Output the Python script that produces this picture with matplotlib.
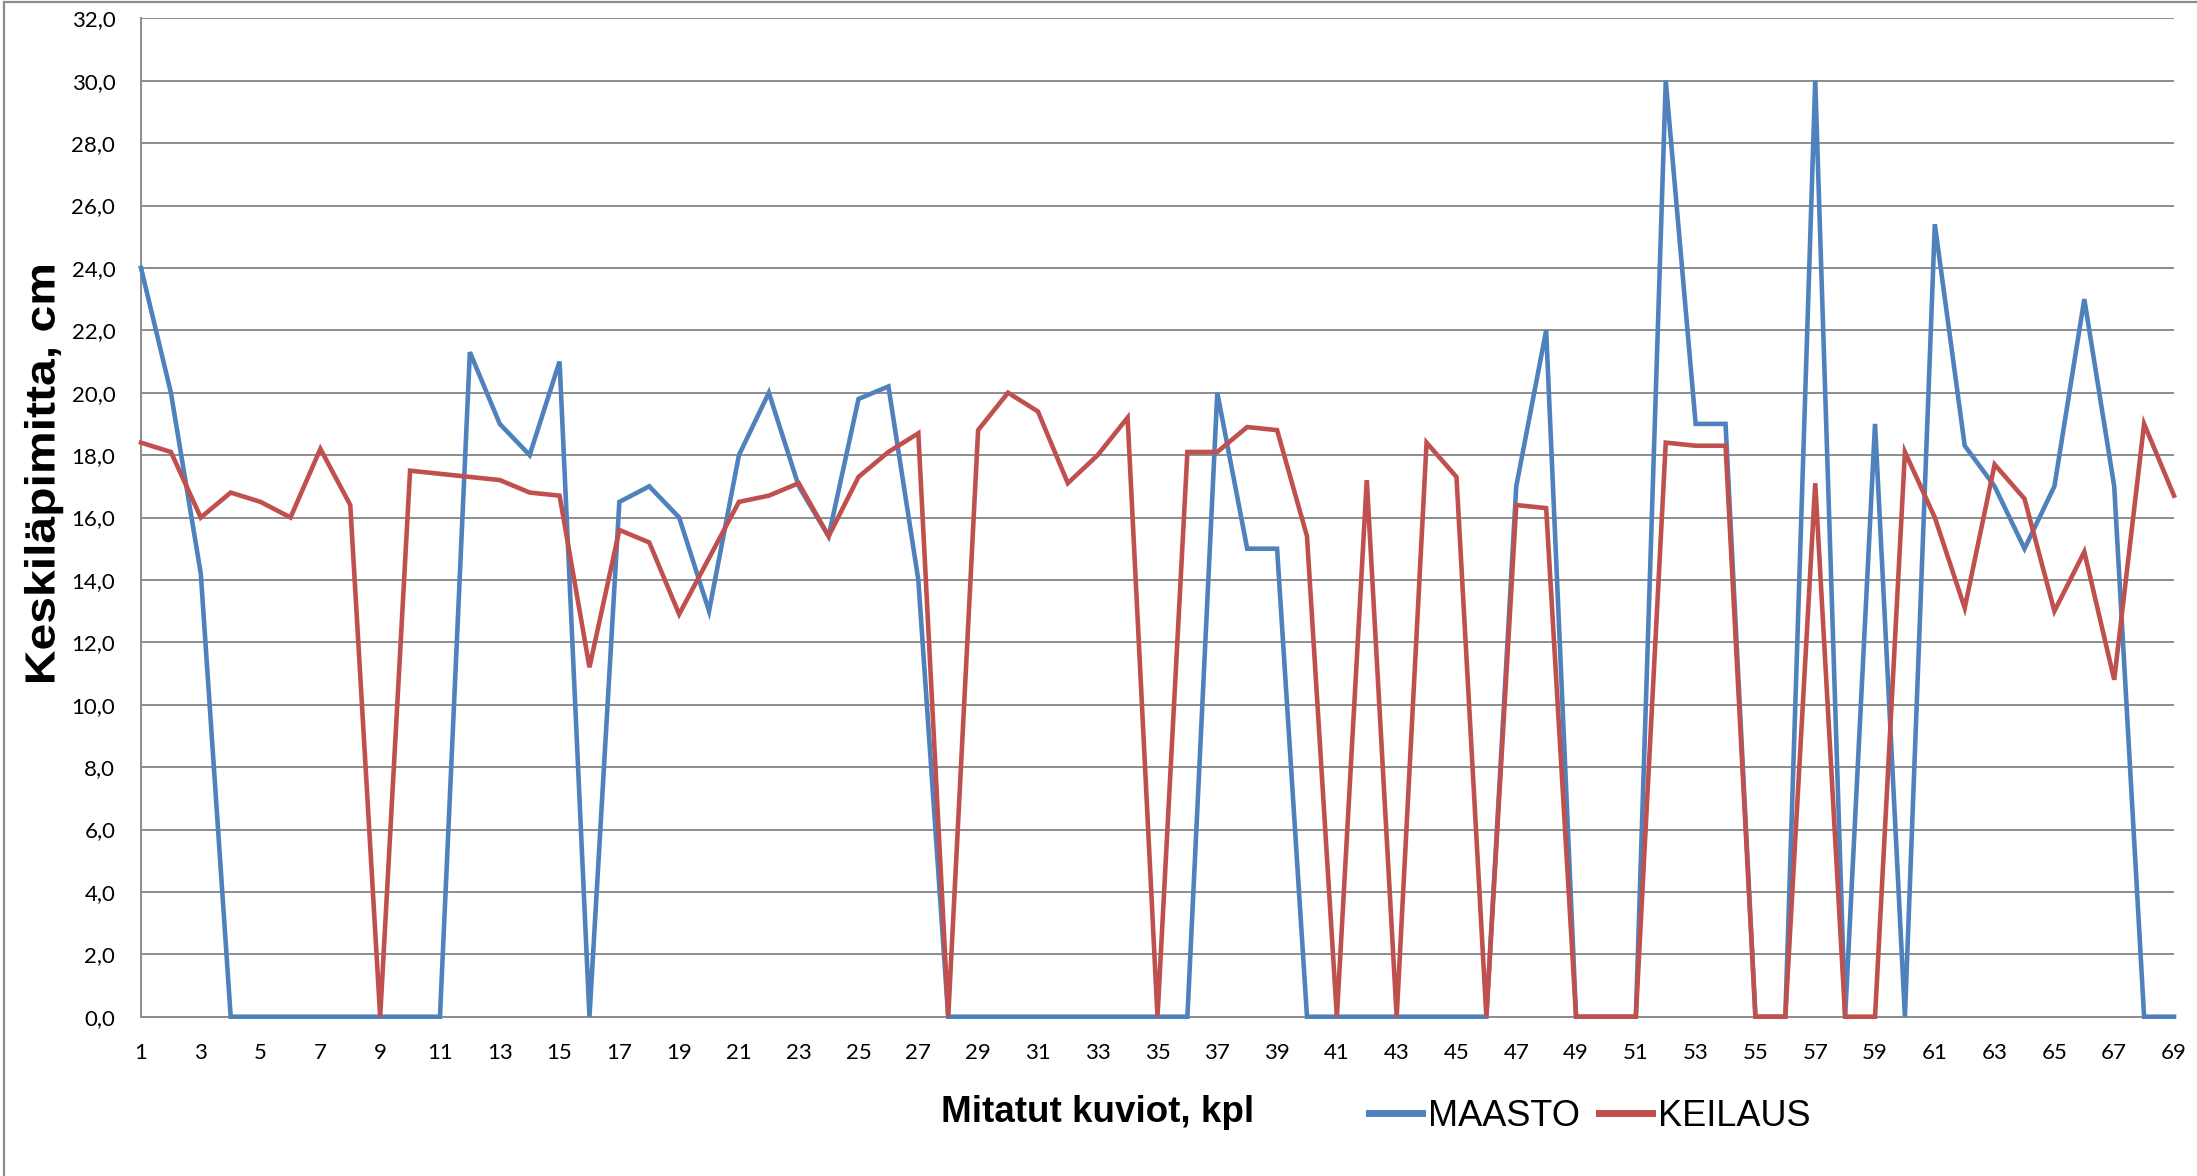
import matplotlib
matplotlib.use("Agg")
import matplotlib.pyplot as plt
from matplotlib.lines import Line2D
from matplotlib.patches import PathPatch
from matplotlib.textpath import TextPath
from matplotlib.font_manager import FontProperties
from matplotlib.transforms import Affine2D, IdentityTransform
from matplotlib.ticker import FuncFormatter, MultipleLocator, FixedLocator

# Measured stands, numbered 1..69
kuviot = list(range(1, 70))

# Mean diameter (cm) from field measurement
maasto = [
    24.0, 20.0, 14.2, 0.0, 0.0, 0.0, 0.0, 0.0, 0.0, 0.0,
    0.0, 21.3, 19.0, 18.0, 21.0, 0.0, 16.5, 17.0, 16.0, 13.0,
    18.0, 20.0, 17.0, 15.4, 19.8, 20.2, 14.0, 0.0, 0.0, 0.0,
    0.0, 0.0, 0.0, 0.0, 0.0, 0.0, 20.0, 15.0, 15.0, 0.0,
    0.0, 0.0, 0.0, 0.0, 0.0, 0.0, 17.0, 22.0, 0.0, 0.0,
    0.0, 30.0, 19.0, 19.0, 0.0, 0.0, 30.0, 0.0, 19.0, 0.0,
    25.4, 18.3, 17.0, 15.0, 17.0, 23.0, 17.0, 0.0, 0.0,
]

# Mean diameter (cm) from laser scanning
keilaus = [
    18.4, 18.1, 16.0, 16.8, 16.5, 16.0, 18.2, 16.4, 0.0, 17.5,
    17.4, 17.3, 17.2, 16.8, 16.7, 11.2, 15.6, 15.2, 12.9, 14.7,
    16.5, 16.7, 17.1, 15.4, 17.3, 18.1, 18.7, 0.0, 18.8, 20.0,
    19.4, 17.1, 18.0, 19.2, 0.0, 18.1, 18.1, 18.9, 18.8, 15.4,
    0.0, 17.2, 0.0, 18.4, 17.3, 0.0, 16.4, 16.3, 0.0, 0.0,
    0.0, 18.4, 18.3, 18.3, 0.0, 0.0, 17.1, 0.0, 0.0, 18.1,
    16.0, 13.1, 17.7, 16.6, 13.0, 14.9, 10.8, 19.0, 16.7,
]

series_names = ["MAASTO", "KEILAUS"]
x_title = "Mitatut kuviot, kpl"
y_title = "Keskiläpimitta, cm"

BLUE = "#4F81BD"
RED = "#C0504D"
GRID = "#8C8C8C"

W, H = 2197, 1176
fig = plt.figure(figsize=(W / 100, H / 100), dpi=100)
fig.patch.set_facecolor("white")

left, right = 141 / W, 2174 / W
bottom, top = 1 - 1016.7 / H, 1 - 18.3 / H
ax = fig.add_axes([left, bottom, right - left, top - bottom])

ax.plot(kuviot, maasto, color=BLUE, lw=3.3, solid_joinstyle="miter", zorder=3, clip_on=False)
ax.plot(kuviot, keilaus, color=RED, lw=3.3, solid_joinstyle="miter", zorder=4, clip_on=False)

ax.set_xlim(1, 69)
ax.set_ylim(0, 32)
ax.xaxis.set_major_locator(FixedLocator(kuviot[::2]))
ax.yaxis.set_major_locator(MultipleLocator(2))
ax.yaxis.set_major_formatter(FuncFormatter(lambda v, p: f"{v:.1f}".replace(".", ",")))
ax.xaxis.set_major_formatter(FuncFormatter(lambda v, p: f"{int(round(v))}"))

ax.grid(axis="y", color=GRID, lw=1.4, zorder=1)
ax.set_axisbelow(True)
for s in ("top", "right"):
    ax.spines[s].set_visible(False)
for s in ("left", "bottom"):
    ax.spines[s].set_color(GRID)
    ax.spines[s].set_linewidth(1.4)

ax.tick_params(axis="both", length=0, labelsize=16, colors="black")
ax.tick_params(axis="y", pad=18.5)
ax.tick_params(axis="x", pad=19)
for lab in ax.get_xticklabels() + ax.get_yticklabels():
    lab.set_fontfamily(["Lato", "DejaVu Sans"])

# X axis title
fig.text(1098 / W, 1 - 1113 / H, x_title, ha="center", va="center",
         fontsize=26.5, fontweight="bold", family=["Liberation Sans", "DejaVu Sans"])

# Y axis title: slightly condensed bold text, drawn as a path in pixel space
fp = FontProperties(family="Liberation Sans", weight="bold")
tp = TextPath((0, 0), y_title, size=47, prop=fp)
ext = tp.get_extents()
cap = TextPath((0, 0), "K", size=47, prop=fp).get_extents()
target_len, target_cap = 416.0, 29.0
sx = target_len / ext.width
sy = target_cap / cap.height
cx, cy = 40.0, H - 474.0
tr = (Affine2D()
      .translate(-(ext.x0 + ext.width / 2), -(cap.y0 + cap.height / 2))
      .scale(sx, sy)
      .rotate_deg(90)
      .translate(cx, cy))
fig.add_artist(PathPatch(tr.transform_path(tp), facecolor="black", edgecolor="none",
                         transform=IdentityTransform()))

# Legend
handles = [Line2D([], [], color=BLUE, lw=5), Line2D([], [], color=RED, lw=5)]
fig.legend(handles, series_names, loc="center left",
           bbox_to_anchor=(1369 / W, 1 - 1116 / H), ncol=2, frameon=False,
           borderpad=0, borderaxespad=0, handlelength=1.48, handletextpad=0.16,
           columnspacing=0.52, prop={"family": "Liberation Sans", "size": 26})

# Chart-area border
fig.add_artist(Line2D([4 / W, 4 / W], [0, 1 - 2 / H], color="#8C8C8C", lw=1.6,
                      transform=fig.transFigure))
fig.add_artist(Line2D([4 / W, 1], [1 - 2 / H, 1 - 2 / H], color="#8C8C8C", lw=1.6,
                      transform=fig.transFigure))

fig.savefig("out.png", dpi=100)
